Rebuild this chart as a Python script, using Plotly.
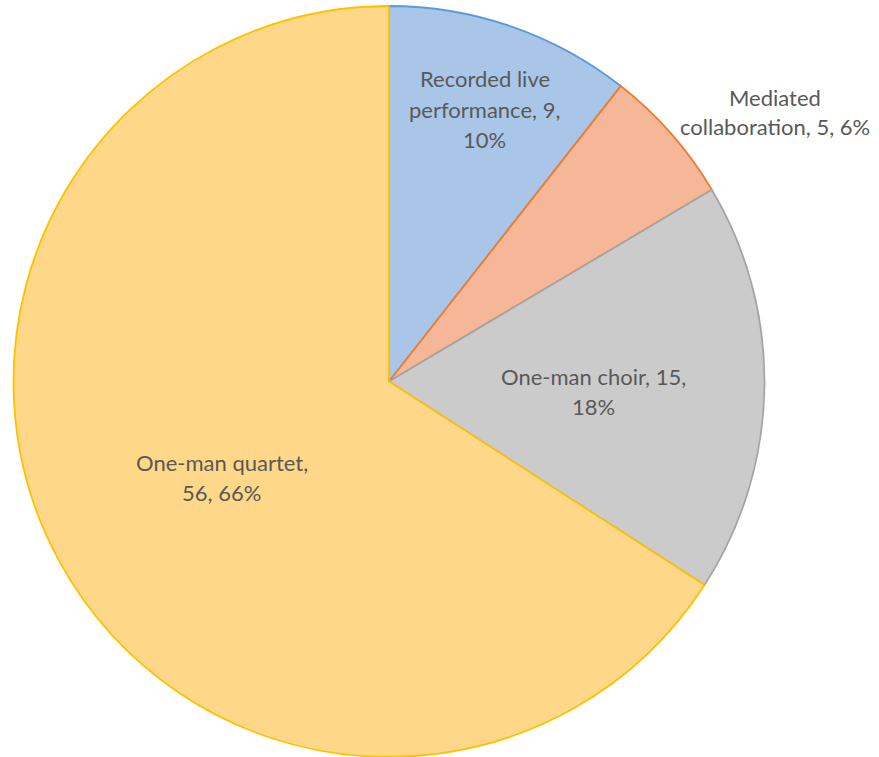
import plotly.graph_objects as go

# Project types and counts
categories = ["Recorded live performance", "Mediated collaboration",
              "One-man choir", "One-man quartet"]
counts = [9, 5, 15, 56]
percent_labels = [10, 6, 18, 66]

fill_colors = ["#a9c6e8", "#f5b797", "#cbcbcb", "#fed888"]
line_colors = ["#5b9bd5", "#ed7d31", "#a5a5a5", "#ffc000"]

# Data label layout: line-wrapped text and where each block sits (paper coords)
label_templates = [
    "Recorded live<br>performance, {v},<br>{p}%",
    "Mediated<br>collaboration, {v}, {p}%",
    "One-man choir, {v},<br>{p}%",
    "One-man quartet,<br>{v}, {p}%",
]
label_anchor_px = [(485, 79), (775, 97), (593, 376), (222, 462)]

W, H = 879, 757
LINE_H = 30
FONT = dict(family="Lato, 'Open Sans', sans-serif", size=22, color="#595959")

fig = go.Figure(go.Pie(
    labels=categories,
    values=counts,
    sort=False,
    direction="clockwise",
    rotation=0,
    textinfo="none",
    hoverinfo="label+value+percent",
    marker=dict(colors=fill_colors, line=dict(color=line_colors, width=1.8)),
    domain=dict(x=[(389 - 375.5) / W, (389 + 375.5) / W], y=[0, 1 - 6 / H]),
    showlegend=False,
))

annotations = []
for tpl, v, p, (cx, cy) in zip(label_templates, counts, percent_labels, label_anchor_px):
    for i, line in enumerate(tpl.format(v=v, p=p).split("<br>")):
        y_px = cy + i * LINE_H
        annotations.append(dict(
            x=cx / W, y=1 - y_px / H, xref="paper", yref="paper",
            text=line, showarrow=False, font=FONT,
            xanchor="center", yanchor="middle",
        ))

fig.update_layout(
    width=W, height=H,
    margin=dict(l=0, r=0, t=0, b=0),
    paper_bgcolor="white",
    plot_bgcolor="white",
    annotations=annotations,
)

fig.write_html("out.html")
